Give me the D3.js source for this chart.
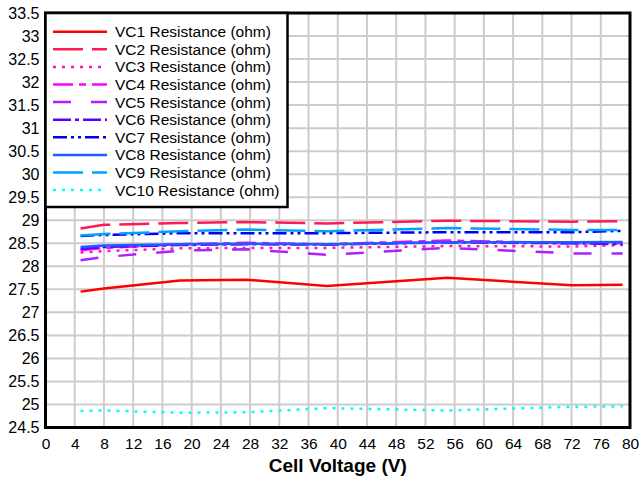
<!DOCTYPE html>
<html><head><meta charset="utf-8">
<script src="https://cdn.jsdelivr.net/npm/d3@7"></script>
<style>
html,body{margin:0;padding:0;background:#fff;}
svg{display:block;}
</style></head>
<body>
<svg id="chart" width="639" height="477"></svg>
<script>
const voltages = [4.8, 8, 18.4, 27.5, 38.5, 55, 72, 79];
const seriesNames = ["VC1 Resistance (ohm)","VC2 Resistance (ohm)","VC3 Resistance (ohm)","VC4 Resistance (ohm)","VC5 Resistance (ohm)","VC6 Resistance (ohm)","VC7 Resistance (ohm)","VC8 Resistance (ohm)","VC9 Resistance (ohm)","VC10 Resistance (ohm)"];
const vc1  = [27.45, 27.52, 27.69, 27.71, 27.57, 27.75, 27.59, 27.60];
const vc2  = [28.82, 28.90, 28.94, 28.96, 28.93, 28.99, 28.97, 28.98];
const vc3  = [28.30, 28.33, 28.39, 28.40, 28.40, 28.44, 28.43, 28.46];
const vc4  = [28.35, 28.40, 28.48, 28.51, 28.48, 28.56, 28.50, 28.50];
const vc5  = [28.13, 28.20, 28.34, 28.37, 28.25, 28.40, 28.28, 28.28];
const vc6  = [28.38, 28.42, 28.46, 28.48, 28.47, 28.52, 28.50, 28.48];
const vc7  = [28.66, 28.68, 28.72, 28.72, 28.72, 28.74, 28.74, 28.77];
const vc8  = [28.42, 28.45, 28.48, 28.49, 28.48, 28.52, 28.52, 28.53];
const vc9  = [28.67, 28.70, 28.76, 28.80, 28.76, 28.83, 28.79, 28.79];
const vc10 = [24.86, 24.87, 24.82, 24.83, 24.92, 24.87, 24.95, 24.96];
const xTicks = d3.range(0, 81, 4);
const yTicks = d3.range(24.5, 33.51, 0.5);
const xLabel = "Cell Voltage (V)";

const seriesValues = [vc1, vc2, vc3, vc4, vc5, vc6, vc7, vc8, vc9, vc10];
const colors = ["#ff0000","#ff1a55","#ff14c8","#ff00ff","#b020ff","#5a00ff","#0000ee","#1a5eff","#00a2ff","#00ffff"];
const dashes = ["", "30,9", "3,6", "20,6,7,6", "18,20", "18,4,4,4", "14,4,3,4,3,4", "", "30,9", "3,6"];

const svg = d3.select("#chart");
const L = 45.5, R = 630, T = 13, B = 427.5;
const x = d3.scaleLinear().domain([0, 80]).range([L, R]);
const y = d3.scaleLinear().domain([24.5, 33.5]).range([B, T]);
const font = "'Liberation Sans', Arial, sans-serif";

// grid
const g = svg.append("g");
g.selectAll(".vg").data(xTicks).join("line")
  .attr("x1", d => x(d)).attr("x2", d => x(d)).attr("y1", T).attr("y2", B)
  .attr("stroke", "#cccccc").attr("stroke-width", 2);
g.selectAll(".hg").data(yTicks).join("line")
  .attr("x1", L).attr("x2", R).attr("y1", d => y(d)).attr("y2", d => y(d))
  .attr("stroke", "#cccccc").attr("stroke-width", 2);

// lines
const line = d3.line().x(d => x(d[0])).y(d => y(d[1]));
seriesValues.forEach((vals, i) => {
  svg.append("path")
    .datum(voltages.map((v, j) => [v, vals[j]]))
    .attr("d", line)
    .attr("fill", "none")
    .attr("stroke", colors[i])
    .attr("stroke-width", 2.5)
    .attr("stroke-dasharray", dashes[i] || null);
});

// frame
svg.append("rect").attr("x", L).attr("y", T).attr("width", R - L).attr("height", B - T)
  .attr("fill", "none").attr("stroke", "#000").attr("stroke-width", 3);

// axes
const xAxis = svg.append("g").attr("transform", `translate(0,${B})`)
  .call(d3.axisBottom(x).tickValues(xTicks).tickSize(0).tickPadding(10).tickFormat(d3.format("d")));
xAxis.select(".domain").remove();
xAxis.selectAll("text").attr("font-family", font).attr("font-size", 15.5).attr("fill", "#000");

const yAxis = svg.append("g").attr("transform", `translate(${L},0)`)
  .call(d3.axisLeft(y).tickValues(yTicks).tickSize(0).tickPadding(6).tickFormat(d => d3.format("")(d)));
yAxis.select(".domain").remove();
yAxis.selectAll("text").attr("font-family", font).attr("font-size", 16).attr("fill", "#000");

svg.append("text").attr("x", (L + R) / 2).attr("y", 472)
  .attr("text-anchor", "middle").attr("font-family", "'Liberation Sans Narrow', 'Liberation Sans', Arial, sans-serif")
  .attr("font-weight", "bold").attr("font-size", 19).attr("fill", "#000").text(xLabel);

// legend
const lg = svg.append("g");
lg.append("rect").attr("x", L).attr("y", T).attr("width", 242).attr("height", 194)
  .attr("fill", "#fff").attr("stroke", "#000").attr("stroke-width", 2.5);
seriesNames.forEach((name, i) => {
  const yy = 31.7 + i * 17.6;
  lg.append("line").attr("x1", 53).attr("x2", 107).attr("y1", yy).attr("y2", yy)
    .attr("stroke", colors[i]).attr("stroke-width", 2.5)
    .attr("stroke-dasharray", dashes[i] || null);
  lg.append("text").attr("x", 115).attr("y", yy).attr("dy", "0.35em")
    .attr("font-family", font).attr("font-size", 15.5).attr("fill", "#000").text(name);
});
</script>
</body></html>
